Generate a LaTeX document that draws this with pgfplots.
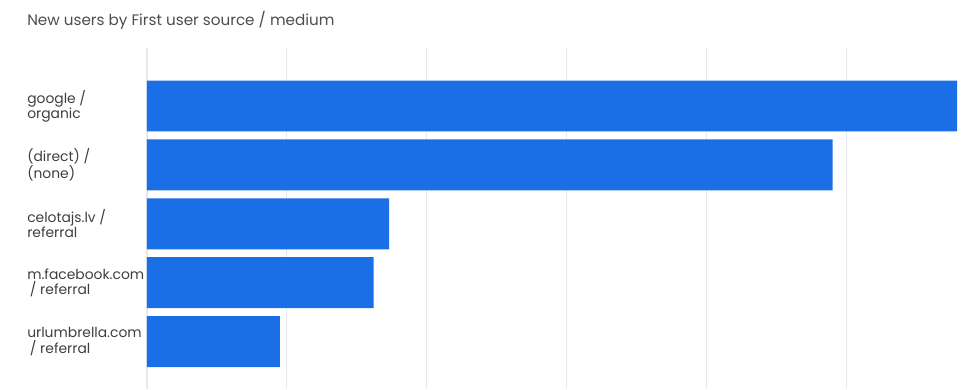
\documentclass[border=0pt]{standalone}
\usepackage{pgfplots}
\pgfplotsset{compat=1.18}
\usepackage{fontspec}
\setmainfont{Poppins}
\definecolor{barblue}{HTML}{1A6FE6}
\definecolor{gridgray}{HTML}{E6E8EB}
\definecolor{labgray}{HTML}{3C4043}
\definecolor{titlegray}{HTML}{4A4D51}
\begin{document}
\begin{tikzpicture}[x=1pt,y=1pt]
\path[use as bounding box] (-110.25,0) rectangle (619.5,291.75);
\node[anchor=west,inner sep=0,text=titlegray,font=\fontsize{11.4}{13}\selectfont] at (-90,276.5) {New users by First user source / medium};
\begin{axis}[
  at={(0,0)}, anchor=south west,
  scale only axis,
  width=607.5pt, height=255.75pt,
  xmin=0, xmax=5.79,
  ymin=-0.985, ymax=4.806,
  y dir=reverse,
  axis line style={draw=none},
  major tick length=0pt,
  xtick={0,1,2,3,4,5},
  xticklabels={},
  xmajorgrids,
  grid style={gridgray, line width=0.8pt},
  ytick={0,1,2,3,4},
  yticklabels={{google /\\organic},{(direct) /\\(none)},{celotajs.lv /\\referral},{m.facebook.com\\\hspace*{2pt}/ referral},{urlumbrella.com\\\hspace*{2pt}/ referral}},
  yticklabel style={anchor=west, xshift=-90pt, align=left, inner sep=0pt, text=labgray, font=\fontsize{10.4}{11.4}\selectfont},
  clip=false,
]
\addplot[xbar, bar width=0.866, fill=barblue, draw=none] coordinates {
  (5.79,0) (4.90,1) (1.73,2) (1.62,3) (0.95,4)
};
\end{axis}
\end{tikzpicture}
\end{document}
